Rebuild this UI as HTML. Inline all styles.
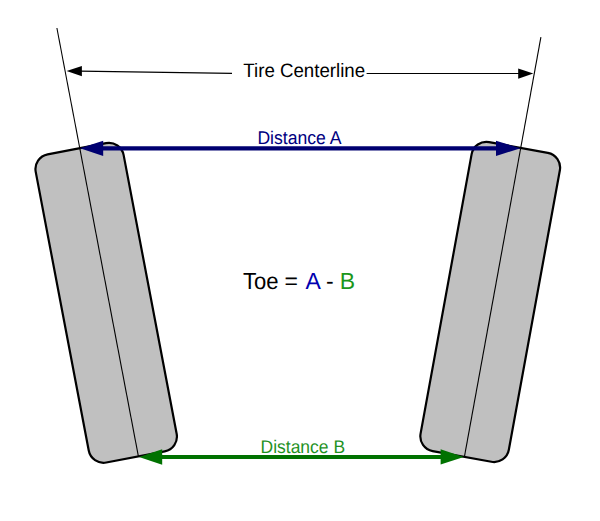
<!DOCTYPE html>
<html><head><meta charset="utf-8"><style>
html,body{margin:0;padding:0;background:#fff;width:600px;height:521px;overflow:hidden}
svg{display:block}
text{font-family:"Liberation Sans",sans-serif;text-rendering:geometricPrecision}
</style></head><body>
<svg width="600" height="521" viewBox="0 0 600 521">
<rect width="600" height="521" fill="#fff"/>
<!-- left tire -->
<rect x="-44.75" y="-156.85" width="89.5" height="313.7" rx="15" ry="15" fill="#c0c0c0" stroke="#000" stroke-width="2.2" transform="translate(106.19 302.84) rotate(-10.77)"/>
<!-- right tire -->
<rect x="-44.85" y="-157.05" width="89.7" height="314.1" rx="15" ry="15" fill="#c0c0c0" stroke="#000" stroke-width="2.2" transform="translate(490.23 301.93) rotate(10.35)"/>
<!-- centerlines -->
<line x1="56.9" y1="28" x2="138.4" y2="456.3" stroke="#000" stroke-width="1.1"/>
<line x1="540.9" y1="37.2" x2="464.4" y2="456.9" stroke="#000" stroke-width="1.1"/>
<!-- Tire centerline arrows -->
<line x1="80" y1="71.2" x2="232" y2="73.4" stroke="#000" stroke-width="1.2"/>
<polygon points="66.6,71.1 81.9,66.0 81.9,76.3" fill="#000"/>
<line x1="366.6" y1="73.5" x2="519" y2="73.5" stroke="#000" stroke-width="1.2"/>
<polygon points="533.3,73.6 518.2,68.5 518.2,78.7" fill="#000"/>
<text transform="translate(243.3 77.2) scale(1 1.04)" font-size="18.7" fill="#000">Tire Centerline</text>
<!-- Distance A -->
<line x1="100" y1="148.3" x2="500" y2="148.3" stroke="#000070" stroke-width="4.3"/>
<polygon points="80.0,148.3 103.2,140.8 103.2,156.0" fill="#000070"/>
<polygon points="520.6,148.3 496,140.7 496,155.9" fill="#000070"/>
<text transform="translate(257.4 144.1) scale(1 1.05)" font-size="17.6" fill="#000080">Distance A</text>
<!-- Toe -->
<g font-size="23">
<text transform="translate(242.9 289.4) scale(0.96 1.02)" fill="#000">Toe</text>
<text transform="translate(284.5 289.4) scale(1 1.02)" fill="#000">=</text>
<text transform="translate(305.5 289.4) scale(1 1.02)" fill="#0000b0">A</text>
<text transform="translate(326 289.4) scale(1 1.02)" fill="#000">-</text>
<text transform="translate(339.8 289.4) scale(1 1.02)" fill="#1a961a">B</text>
</g>
<!-- Distance B -->
<line x1="160" y1="457" x2="443" y2="457" stroke="#007200" stroke-width="4.2"/>
<polygon points="139.0,456.9 162.2,449.3 162.2,464.7" fill="#007200"/>
<polygon points="463.8,456.9 440.6,449.2 440.6,464.6" fill="#007200"/>
<text transform="translate(260.5 453.15) scale(1 1.05)" font-size="17.5" fill="#1f921f">Distance B</text>
</svg>
</body></html>
